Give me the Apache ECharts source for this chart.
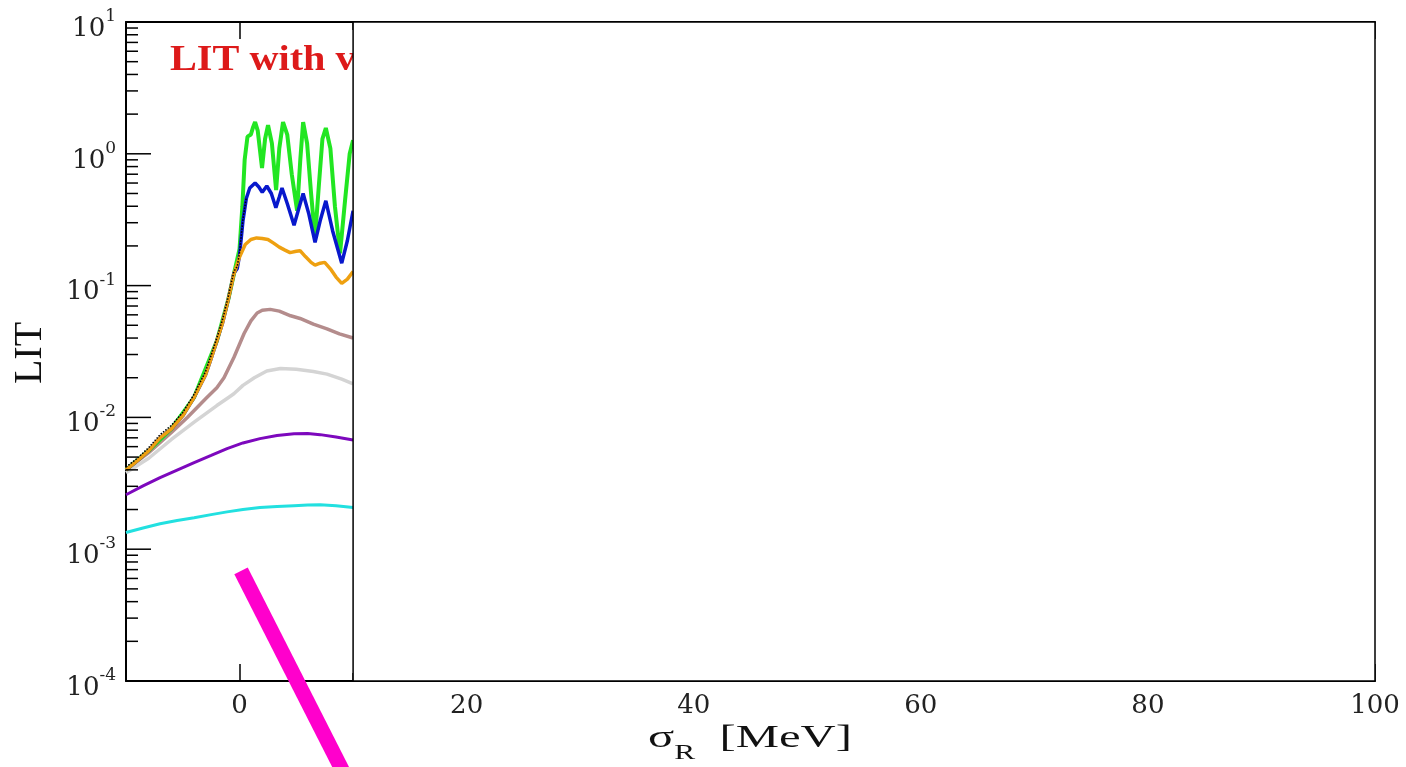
<!DOCTYPE html>
<html>
<head>
<meta charset="utf-8">
<script src="https://cdn.jsdelivr.net/npm/echarts@6/dist/echarts.min.js"></script>
<style>
html, body { margin: 0; padding: 0; background: #fff; }
#chart { width: 1406px; height: 767px; }
</style>
</head>
<body>
<div id="chart"></div>
<script>
// Axis ranges
const X_MIN = -10, X_MAX = 100;
const Y_MIN = 1e-4, Y_MAX = 10;

// LIT curves (sigma_R in MeV, LIT value)
const greenX = [-10, -8, -6, -4, -2, -1, -0.5, 0, 0.25, 0.45, 0.7, 1.0, 1.2, 1.37, 1.6, 1.98, 2.25, 2.51, 2.85, 3.22, 3.5, 3.83, 4.2, 4.6, 5.07, 5.35, 5.6, 5.95, 6.3, 6.65, 7.0, 7.3, 7.6, 8.0, 8.4, 8.85, 9.3, 9.7, 10];
const greenY = [0.0040, 0.0056, 0.0082, 0.0142, 0.038, 0.078, 0.122, 0.19, 0.4, 0.9, 1.35, 1.4, 1.6, 1.74, 1.5, 0.78, 1.3, 1.65, 1.2, 0.53, 1.1, 1.74, 1.4, 0.7, 0.37, 0.9, 1.74, 1.2, 0.5, 0.23, 0.6, 1.3, 1.57, 1.1, 0.4, 0.176, 0.45, 1.0, 1.27];

const blueX = [-10, -9, -8, -7, -6, -5, -4, -3, -2.5, -2, -1.5, -1, -0.5, -0.2, 0, 0.3, 0.6, 0.9, 1.37, 1.7, 2.0, 2.4, 2.8, 3.2, 3.5, 3.74, 4.2, 4.8, 5.2, 5.6, 6.1, 6.65, 7.1, 7.6, 8.2, 9.0, 9.5, 10];
const blueY = [0.0040, 0.0047, 0.0056, 0.0070, 0.0082, 0.0103, 0.0142, 0.021, 0.028, 0.038, 0.052, 0.078, 0.124, 0.135, 0.17, 0.31, 0.46, 0.55, 0.60, 0.56, 0.51, 0.57, 0.50, 0.39, 0.47, 0.55, 0.42, 0.287, 0.38, 0.50, 0.35, 0.213, 0.31, 0.44, 0.26, 0.148, 0.22, 0.37];

const orangeX = [-10, -9, -8, -7, -6, -5, -4, -3, -2.5, -2, -1.5, -1, -0.5, 0, 0.5, 1, 1.5, 2, 2.5, 3, 3.5, 4, 4.45, 5, 5.33, 5.8, 6.3, 6.65, 7.1, 7.5, 8, 8.5, 9, 9.5, 10];
const orangeY = [0.0040, 0.0047, 0.0056, 0.0070, 0.0082, 0.0103, 0.0142, 0.021, 0.028, 0.038, 0.052, 0.078, 0.122, 0.165, 0.205, 0.224, 0.230, 0.228, 0.224, 0.210, 0.196, 0.186, 0.178, 0.182, 0.184, 0.166, 0.150, 0.143, 0.148, 0.150, 0.134, 0.116, 0.104, 0.112, 0.128];

const dottedX = [-10, -9, -8, -7, -6, -5, -4, -3, -2.5, -2, -1.5, -1, -0.5, -0.2, 0, 0.3, 0.6];
const dottedY = [0.0042, 0.0049, 0.0059, 0.0074, 0.0087, 0.0109, 0.0150, 0.0222, 0.0296, 0.040, 0.055, 0.082, 0.128, 0.140, 0.178, 0.32, 0.47];

const brownX = [-10, -8, -6, -4.6, -2.9, -2, -1.37, -0.5, 0.4, 1.0, 1.55, 2.0, 2.7, 3.5, 4.5, 5.33, 6.5, 7.7, 8.8, 10];
const brownY = [0.0040, 0.0054, 0.0077, 0.0100, 0.0141, 0.0168, 0.020, 0.0285, 0.0433, 0.054, 0.062, 0.065, 0.066, 0.064, 0.059, 0.0563, 0.051, 0.047, 0.043, 0.040];

const grayX = [-10, -8, -6, -4, -2, -1, -0.5, 0.3, 1.3, 2.4, 3.6, 5.0, 6.5, 7.7, 9.0, 10];
const grayY = [0.0038, 0.0049, 0.0068, 0.0092, 0.0123, 0.0141, 0.0151, 0.0175, 0.020, 0.0225, 0.0235, 0.0232, 0.0223, 0.0213, 0.0195, 0.018];

const purpleX = [-10, -8.5, -7, -5.5, -4, -2.5, -1.1, 0.3, 1.8, 3.3, 4.8, 6, 7.1, 8.5, 10];
const purpleY = [0.00259, 0.00302, 0.00349, 0.00398, 0.00454, 0.00515, 0.0058, 0.0064, 0.0069, 0.0073, 0.00753, 0.00755, 0.0074, 0.0071, 0.00675];

const cyanX = [-10, -8.5, -7, -5.5, -4, -2.5, -1.1, 0.3, 1.8, 3.3, 4.8, 6, 7.1, 8.5, 10];
const cyanY = [0.00134, 0.00145, 0.00156, 0.00165, 0.00173, 0.00183, 0.00192, 0.00200, 0.00207, 0.00211, 0.00214, 0.00216, 0.00217, 0.00214, 0.00207];

// Thick marker stroke (runs out below the frame)
const strokeX = [0.13, 10.44];
const strokeY = [6.85e-4, 1.22e-5];

// Blank panel laid over the right part of the frame
const panelFrom = 10;

// Tick helpers
const xMinorTicks = [10, 30, 50, 70, 90];
const yMajorTicks = [1e-3, 1e-2, 1e-1, 1, 10];
const yMinorTicks = [];
for (let e = -4; e <= 0; e++) {
  for (let m = 2; m <= 9; m++) yMinorTicks.push(m * Math.pow(10, e));
}

const pairs = (xs, ys) => xs.map((x, i) => [x, ys[i]]);

function curve(name, xs, ys, color, width, type) {
  return {
    name: name,
    type: 'line',
    data: pairs(xs, ys),
    symbol: 'none',
    smooth: false,
    z: 3,
    lineStyle: { color: color, width: width, type: type || 'solid' },
    animation: false
  };
}

// Short horizontal ticks on the left frame edge, drawn through the log scale
function leftTicks(name, values, len) {
  return {
    name: name, type: 'custom', z: 4, silent: true,
    data: values.map(v => [X_MIN, v]),
    encode: { x: 0, y: 1 },
    renderItem: function (params, api) {
      const p = api.coord([api.value(0), api.value(1)]);
      return {
        type: 'line',
        shape: { x1: p[0], y1: p[1], x2: p[0] + len, y2: p[1] },
        style: { stroke: '#000', lineWidth: 1.5 }
      };
    }
  };
}

const serif = 'DejaVu Serif';

const chart = echarts.init(document.getElementById('chart'));
chart.setOption({
  animation: false,
  backgroundColor: '#fff',
  grid: { left: 126, right: 31, top: 22, bottom: 86, containLabel: false },
  xAxis: [
    {
      type: 'value', min: X_MIN, max: X_MAX, splitNumber: 5,
      axisLine: { onZero: false, lineStyle: { color: '#000', width: 2 } },
      axisTick: { inside: true, length: 17, lineStyle: { color: '#000', width: 1.5 } },
      splitLine: { show: false },
      axisLabel: { showMinLabel: false, margin: 12, color: '#222', fontFamily: serif, fontSize: 26 }
    },
    {
      type: 'value', position: 'top', min: X_MIN, max: X_MAX, splitNumber: 5,
      axisLine: { onZero: false, lineStyle: { color: '#000', width: 2 } },
      axisTick: { inside: true, length: 17, lineStyle: { color: '#000', width: 1.5 } },
      splitLine: { show: false },
      axisLabel: { show: false }
    }
  ],
  yAxis: {
    type: 'log', logBase: 10, min: Y_MIN, max: Y_MAX,
    axisLine: { show: true, onZero: false, lineStyle: { color: '#000', width: 2 } },
    axisTick: { show: false },
    splitLine: { show: false },
    axisLabel: {
      margin: 10,
      padding: [14, 0, 0, 0],
      formatter: function (v) {
        const e = Math.round(Math.log10(v));
        return '{b|10}{s|' + e + '}';
      },
      rich: {
        b: { fontFamily: serif, fontSize: 26, lineHeight: 42, color: '#222' },
        s: { fontFamily: serif, fontSize: 17, lineHeight: 17, verticalAlign: 'top', color: '#222' }
      }
    }
  },
  graphic: [
    {
      type: 'text', x: 170, y: 61, z: 1, scaleX: 1.15,
      style: {
        text: 'LIT with various σ',
        font: 'bold 35px "Liberation Serif"',
        fill: '#dd1a1a',
        align: 'left', verticalAlign: 'middle'
      }
    },
    {
      type: 'text', x: 30, y: 353, rotation: Math.PI / 2, z: 1,
      style: {
        text: 'LIT',
        font: '40px "Liberation Serif"',
        fill: '#111',
        align: 'center', verticalAlign: 'middle'
      }
    },
    {
      type: 'text', x: 750, y: 739, scaleX: 1.57, z: 1,
      style: {
        text: '{a|σ}{s|R}{a|  [MeV]}',
        align: 'center', verticalAlign: 'middle',
        rich: {
          a: { fontFamily: 'Liberation Serif', fontSize: 31, lineHeight: 50, fill: '#111' },
          s: { fontFamily: 'Liberation Serif', fontSize: 20, lineHeight: 20, verticalAlign: 'bottom', fill: '#111' }
        }
      }
    }
  ],
  series: [
    curve('cyan', cyanX, cyanY, '#22e0e0', 3),
    curve('purple', purpleX, purpleY, '#7d08bd', 3),
    curve('gray', grayX, grayY, '#d4d4d4', 3.5),
    curve('brown', brownX, brownY, '#b48c8c', 3.5),
    curve('green', greenX, greenY, '#22e622', 4),
    curve('blue', blueX, blueY, '#0818cc', 3.5),
    curve('orange', orangeX, orangeY, '#eea010', 3.5),
    curve('dotted', dottedX, dottedY, '#000', 1.5, 'dotted'),
    leftTicks('yMajor', yMajorTicks, 25),
    leftTicks('yMinor', yMinorTicks, 12),
    {
      name: 'xMinor', type: 'custom', z: 4, silent: true,
      data: xMinorTicks.map(v => [v, Y_MIN]),
      encode: { x: 0, y: 1 },
      renderItem: function (params, api) {
        const b = api.coord([api.value(0), Y_MIN]);
        const t = api.coord([api.value(0), Y_MAX]);
        return {
          type: 'group',
          children: [
            { type: 'line', shape: { x1: b[0], y1: b[1], x2: b[0], y2: b[1] - 8 }, style: { stroke: '#000', lineWidth: 1.5 } },
            { type: 'line', shape: { x1: t[0], y1: t[1], x2: t[0], y2: t[1] + 8 }, style: { stroke: '#000', lineWidth: 1.5 } }
          ]
        };
      }
    },
    {
      name: 'panel', type: 'custom', z: 10, silent: true,
      data: [[panelFrom, Y_MIN, X_MAX, Y_MAX]],
      encode: { x: [0, 2], y: [1, 3] },
      renderItem: function (params, api) {
        const tl = api.coord([api.value(0), api.value(3)]);
        const br = api.coord([api.value(2), api.value(1)]);
        return {
          type: 'rect',
          shape: { x: tl[0], y: tl[1], width: br[0] - tl[0], height: br[1] - tl[1] },
          style: { fill: '#fff', stroke: '#000', lineWidth: 1.5 }
        };
      }
    },
    {
      name: 'stroke', type: 'line', z: 12, clip: false,
      data: pairs(strokeX, strokeY),
      symbol: 'none',
      lineStyle: { color: '#ff00cc', width: 15, cap: 'butt' }
    }
  ]
});
</script>
</body>
</html>
